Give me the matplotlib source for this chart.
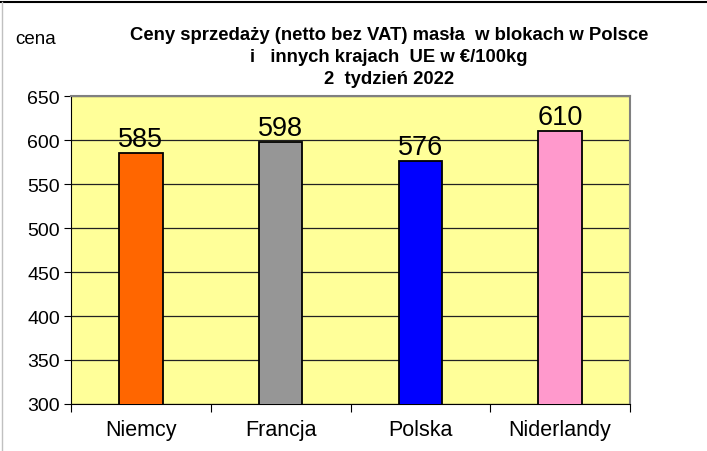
import matplotlib.pyplot as plt
from matplotlib.lines import Line2D

plt.rcParams['font.family'] = ['Liberation Sans', 'DejaVu Sans']

countries = ['Niemcy', 'Francja', 'Polska', 'Niderlandy']
prices = [585, 598, 576, 610]
bar_colors = ['#FF6600', '#969696', '#0000FF', '#FF99CC']
y_ticks = [300, 350, 400, 450, 500, 550, 600, 650]

W, H = 707, 452
fig = plt.figure(figsize=(W / 100, H / 100), dpi=100)
ax = fig.add_axes([71 / W, 1 - 405 / H, (630 - 71) / W, (405 - 97) / H])
ax.set_facecolor('#FFFF99')

x = range(len(countries))
ax.bar(x, prices, width=0.31, color=bar_colors, edgecolor='black', linewidth=1.3, zorder=3)
for xi, v in zip(x, prices):
    ax.text(xi, v + 1.0, str(v), ha='center', va='bottom', fontsize=19.5, zorder=4)

ax.set_xlim(-0.5, len(countries) - 0.5)
ax.set_ylim(300, 650)
ax.set_yticks(y_ticks)
ax.set_yticklabels([str(t) for t in y_ticks], fontsize=14)
ax.yaxis.grid(True, color='#222222', linewidth=0.9, zorder=1)
ax.set_axisbelow(True)

# category ticks sit between bars, labels centred under bars
ax.set_xticks([i - 0.5 for i in range(len(countries) + 1)])
ax.set_xticklabels([])
ax.set_xticks(list(x), minor=True)
ax.set_xticklabels(countries, minor=True, fontsize=15.5)
ax.tick_params(axis='x', which='minor', length=0, pad=11)
ax.tick_params(axis='x', which='major', length=6, direction='out', color='black')
ax.tick_params(axis='y', length=5, direction='out', pad=3)

for s in ['top', 'right']:
    ax.spines[s].set_color('#808080')
    ax.spines[s].set_linewidth(1.5)
ax.spines['left'].set_color('black')
ax.spines['bottom'].set_color('black')

fig.text(389 / W, 1 - 36 / H, 'Ceny sprzedaży (netto bez VAT) masła  w blokach w Polsce',
         ha='center', va='center', fontsize=13.3, fontweight='bold')
fig.text(389 / W, 1 - 58 / H, 'i   innych krajach  UE w €/100kg',
         ha='center', va='center', fontsize=13.3, fontweight='bold')
fig.text(389 / W, 1 - 80 / H, '2  tydzień 2022',
         ha='center', va='center', fontsize=13.3, fontweight='bold')
fig.text(15 / W, 1 - 40 / H, 'cena', ha='left', va='center', fontsize=13.5)

# frame lines of the original picture
fig.add_artist(Line2D([0, 1], [1 - 3 / H, 1 - 3 / H], color='black', linewidth=1.5))
fig.add_artist(Line2D([1.5 / W, 1.5 / W], [0, 1 - 3 / H], color='#C0C0C0', linewidth=1))

fig.savefig('out.png', dpi=100)
